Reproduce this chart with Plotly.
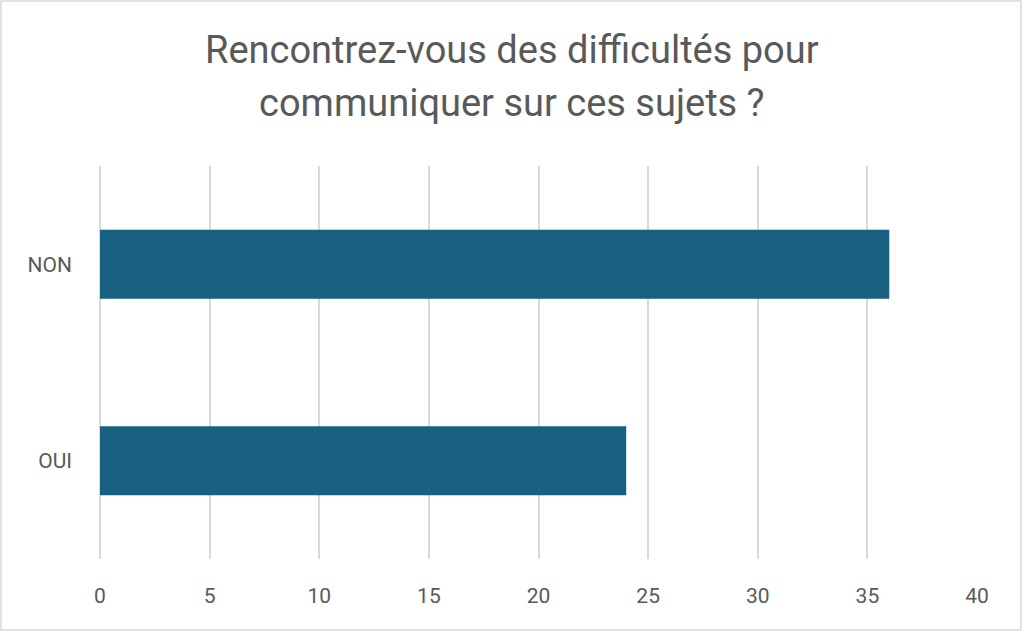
import plotly.graph_objects as go

# data
categories = ["OUI", "NON"]
values = [24, 36]
tick_vals = [0, 5, 10, 15, 20, 25, 30, 35, 40]
title_lines = ["Rencontrez-vous des difficultés pour", "communiquer sur ces sujets ?"]

bar_color = "#17607f"
text_color = "#595959"
grid_color = "#d9d9d9"

fig = go.Figure()
fig.add_trace(go.Bar(
    x=values,
    y=categories,
    orientation="h",
    marker=dict(color=bar_color, line=dict(width=0)),
    hoverinfo="x+y",
))

# title as two lines so the line spacing matches
title_y = [1.296, 1.161]
annotations = []
for line, yy in zip(title_lines, title_y):
    annotations.append(dict(
        text=line, xref="paper", yref="paper", x=0.4698, y=yy,
        xanchor="center", yanchor="middle", showarrow=False,
        font=dict(size=38, color=text_color, family="Roboto"),
    ))

fig.update_layout(
    width=1024,
    height=632,
    margin=dict(l=100, r=47, t=166, b=73),
    paper_bgcolor="white",
    plot_bgcolor="white",
    font=dict(family="Roboto, sans-serif", color=text_color, size=21),
    annotations=annotations,
    bargap=0.65,
    showlegend=False,
    xaxis=dict(
        range=[0, 40],
        tickvals=tick_vals,
        showgrid=True,
        gridcolor=grid_color,
        gridwidth=1.5,
        zeroline=True,
        zerolinecolor=grid_color,
        zerolinewidth=1.5,
        showline=False,
        ticks="",
        ticklabelstandoff=22,
        tickfont=dict(size=21, color=text_color),
    ),
    yaxis=dict(
        showgrid=False,
        showline=False,
        ticks="",
        ticklabelstandoff=27,
        tickfont=dict(size=21, color=text_color),
    ),
    shapes=[dict(
        type="rect",
        xref="paper", yref="paper",
        x0=-0.1129, x1=1.0502, y0=-0.1807, y1=1.4198,
        line=dict(color="#d9d9d9", width=1.5),
        fillcolor="rgba(0,0,0,0)",
        layer="below",
    )],
)

fig.write_html("out.html",
               config={"displayModeBar": False},
               post_script="document.body.style.margin='0';document.body.style.overflow='hidden';")
